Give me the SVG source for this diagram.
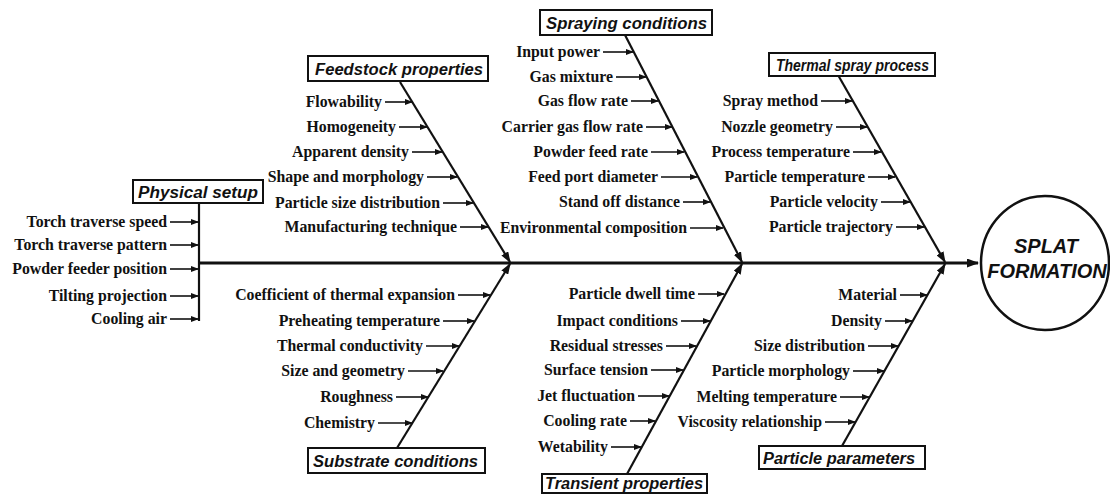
<svg xmlns="http://www.w3.org/2000/svg" width="1110" height="494" viewBox="0 0 1110 494">
<style>
.it{font-family:"Liberation Serif","Times New Roman",serif;font-weight:bold;font-size:15.8px;fill:#111;text-anchor:end}
.cat{font-family:"Liberation Sans",Arial,sans-serif;font-weight:bold;font-style:italic;font-size:16px;fill:#111}
.box{fill:#fff;stroke:#111;stroke-width:2}
.a{stroke:#111;stroke-width:1.6;fill:none;marker-end:url(#sa)}
.d{stroke:#111;stroke-width:2.2;fill:none;marker-end:url(#da)}
.sp{stroke:#111;stroke-width:3;fill:none;marker-end:url(#ma)}
.ttl{font-family:"Liberation Sans",Arial,sans-serif;font-weight:bold;font-style:italic;font-size:20px;fill:#111;text-anchor:middle}
</style>
<defs>
<marker id="sa" markerUnits="userSpaceOnUse" markerWidth="8" markerHeight="6" refX="7" refY="3" orient="auto"><path d="M0,0 L8,3 L0,6 z" fill="#111"/></marker>
<marker id="da" markerUnits="userSpaceOnUse" markerWidth="11" markerHeight="8" refX="10" refY="4" orient="auto"><path d="M0,0 L11,4 L0,8 z" fill="#111"/></marker>
<marker id="ma" markerUnits="userSpaceOnUse" markerWidth="12" markerHeight="9" refX="11" refY="4.5" orient="auto"><path d="M0,0 L12,4.5 L0,9 z" fill="#111"/></marker>
</defs>
<rect width="1110" height="494" fill="#fff"/>

<g id="connectors">
<line class="sp" x1="198" y1="263" x2="978" y2="263"/>
<line x1="199" y1="203" x2="199" y2="321" stroke="#111" stroke-width="2.2"/>
<line class="d" x1="400" y1="82" x2="510" y2="262"/>
<line class="d" x1="625" y1="35" x2="742" y2="262"/>
<line class="d" x1="838" y1="75" x2="945" y2="262"/>
<line class="d" x1="397" y1="448" x2="510" y2="264"/>
<line class="d" x1="627" y1="474" x2="742" y2="264"/>
<line class="d" x1="842" y1="446" x2="945" y2="264"/>
<line class="a" x1="170" y1="222" x2="198" y2="222"/>
<line class="a" x1="170" y1="245" x2="198" y2="245"/>
<line class="a" x1="170" y1="269" x2="198" y2="269"/>
<line class="a" x1="170" y1="296" x2="198" y2="296"/>
<line class="a" x1="170" y1="319" x2="198" y2="319"/>
<line class="a" x1="385" y1="102" x2="412" y2="102"/>
<line class="a" x1="399" y1="127" x2="427" y2="127"/>
<line class="a" x1="412" y1="152" x2="442" y2="152"/>
<line class="a" x1="427" y1="177" x2="457" y2="177"/>
<line class="a" x1="443" y1="203" x2="473" y2="203"/>
<line class="a" x1="460" y1="227" x2="488" y2="227"/>
<line class="a" x1="603" y1="52" x2="633" y2="52"/>
<line class="a" x1="616" y1="77" x2="646" y2="77"/>
<line class="a" x1="631" y1="101" x2="658" y2="101"/>
<line class="a" x1="646" y1="127" x2="672" y2="127"/>
<line class="a" x1="651" y1="152" x2="684" y2="152"/>
<line class="a" x1="661" y1="177" x2="697" y2="177"/>
<line class="a" x1="683" y1="202" x2="710" y2="202"/>
<line class="a" x1="690" y1="228" x2="723" y2="228"/>
<line class="a" x1="821" y1="101" x2="852" y2="101"/>
<line class="a" x1="836" y1="127" x2="867" y2="127"/>
<line class="a" x1="853" y1="152" x2="881" y2="152"/>
<line class="a" x1="868" y1="177" x2="895" y2="177"/>
<line class="a" x1="881" y1="202" x2="910" y2="202"/>
<line class="a" x1="896" y1="227" x2="924" y2="227"/>
<line class="a" x1="458" y1="295" x2="490" y2="295"/>
<line class="a" x1="443" y1="321" x2="474" y2="321"/>
<line class="a" x1="426" y1="346" x2="459" y2="346"/>
<line class="a" x1="408" y1="371" x2="443" y2="371"/>
<line class="a" x1="396" y1="397" x2="428" y2="397"/>
<line class="a" x1="378" y1="423" x2="412" y2="423"/>
<line class="a" x1="698" y1="294" x2="724" y2="294"/>
<line class="a" x1="681" y1="321" x2="710" y2="321"/>
<line class="a" x1="666" y1="346" x2="696" y2="346"/>
<line class="a" x1="651" y1="370" x2="683" y2="370"/>
<line class="a" x1="638" y1="396" x2="669" y2="396"/>
<line class="a" x1="630" y1="421" x2="655" y2="421"/>
<line class="a" x1="611" y1="447" x2="641" y2="447"/>
<line class="a" x1="900" y1="295" x2="927" y2="295"/>
<line class="a" x1="885" y1="321" x2="912" y2="321"/>
<line class="a" x1="868" y1="346" x2="898" y2="346"/>
<line class="a" x1="853" y1="371" x2="884" y2="371"/>
<line class="a" x1="840" y1="397" x2="869" y2="397"/>
<line class="a" x1="825" y1="422" x2="855" y2="422"/>
</g>

<g id="physical-setup">
<rect class="box" x="133" y="180" width="130" height="23"/>
<text class="cat" x="138" y="197.5" textLength="120" lengthAdjust="spacingAndGlyphs">Physical setup</text>
<text class="it" x="167" y="227">Torch traverse speed</text>
<text class="it" x="167" y="250">Torch traverse pattern</text>
<text class="it" x="167" y="274">Powder feeder position</text>
<text class="it" x="167" y="301">Tilting projection</text>
<text class="it" x="167" y="324">Cooling air</text>
</g>

<g id="feedstock-properties">
<rect class="box" x="308" y="56" width="180" height="25"/>
<text class="cat" x="315" y="74.5" textLength="168" lengthAdjust="spacingAndGlyphs">Feedstock properties</text>
<text class="it" x="382" y="107">Flowability</text>
<text class="it" x="396" y="132">Homogeneity</text>
<text class="it" x="409" y="157">Apparent density</text>
<text class="it" x="424" y="182">Shape and morphology</text>
<text class="it" x="440" y="208">Particle size distribution</text>
<text class="it" x="457" y="232">Manufacturing technique</text>
</g>

<g id="spraying-conditions">
<rect class="box" x="540" y="10" width="172" height="25"/>
<text class="cat" x="546" y="28.5" textLength="161" lengthAdjust="spacingAndGlyphs">Spraying conditions</text>
<text class="it" x="600" y="57">Input power</text>
<text class="it" x="613" y="82">Gas mixture</text>
<text class="it" x="628" y="106">Gas flow rate</text>
<text class="it" x="643" y="132">Carrier gas flow rate</text>
<text class="it" x="648" y="157">Powder feed rate</text>
<text class="it" x="658" y="182">Feed port diameter</text>
<text class="it" x="680" y="207">Stand off distance</text>
<text class="it" x="687" y="233">Environmental composition</text>
</g>

<g id="thermal-spray-process">
<rect class="box" x="769" y="53" width="166" height="23"/>
<text class="cat" x="776" y="70.5" textLength="153" lengthAdjust="spacingAndGlyphs">Thermal spray process</text>
<text class="it" x="818" y="106">Spray method</text>
<text class="it" x="833" y="132">Nozzle geometry</text>
<text class="it" x="850" y="157">Process temperature</text>
<text class="it" x="865" y="182">Particle temperature</text>
<text class="it" x="878" y="207">Particle velocity</text>
<text class="it" x="893" y="232">Particle trajectory</text>
</g>

<g id="substrate-conditions">
<rect class="box" x="308" y="448" width="177" height="25"/>
<text class="cat" x="313" y="466.5" textLength="165" lengthAdjust="spacingAndGlyphs">Substrate conditions</text>
<text class="it" x="455" y="300">Coefficient of thermal expansion</text>
<text class="it" x="440" y="326">Preheating temperature</text>
<text class="it" x="423" y="351">Thermal conductivity</text>
<text class="it" x="405" y="376">Size and geometry</text>
<text class="it" x="393" y="402">Roughness</text>
<text class="it" x="375" y="428">Chemistry</text>
</g>

<g id="transient-properties">
<rect class="box" x="542" y="474" width="165" height="19"/>
<text class="cat" x="545" y="489" textLength="158" lengthAdjust="spacingAndGlyphs">Transient properties</text>
<text class="it" x="695" y="299">Particle dwell time</text>
<text class="it" x="678" y="326">Impact conditions</text>
<text class="it" x="663" y="351">Residual stresses</text>
<text class="it" x="648" y="375">Surface tension</text>
<text class="it" x="635" y="401">Jet fluctuation</text>
<text class="it" x="627" y="426">Cooling rate</text>
<text class="it" x="608" y="452">Wetability</text>
</g>

<g id="particle-parameters">
<rect class="box" x="759" y="446" width="166" height="23"/>
<text class="cat" x="763" y="463.5" textLength="152" lengthAdjust="spacingAndGlyphs">Particle parameters</text>
<text class="it" x="897" y="300">Material</text>
<text class="it" x="882" y="326">Density</text>
<text class="it" x="865" y="351">Size distribution</text>
<text class="it" x="850" y="376">Particle morphology</text>
<text class="it" x="837" y="402">Melting temperature</text>
<text class="it" x="822" y="427">Viscosity relationship</text>
</g>

<g id="splat-formation">
<ellipse cx="1045" cy="263" rx="64" ry="67" fill="#fff" stroke="#111" stroke-width="2.5"/>
<text class="ttl" x="1046" y="253">SPLAT</text>
<text class="ttl" x="1047" y="278">FORMATION</text>
</g>
</svg>
